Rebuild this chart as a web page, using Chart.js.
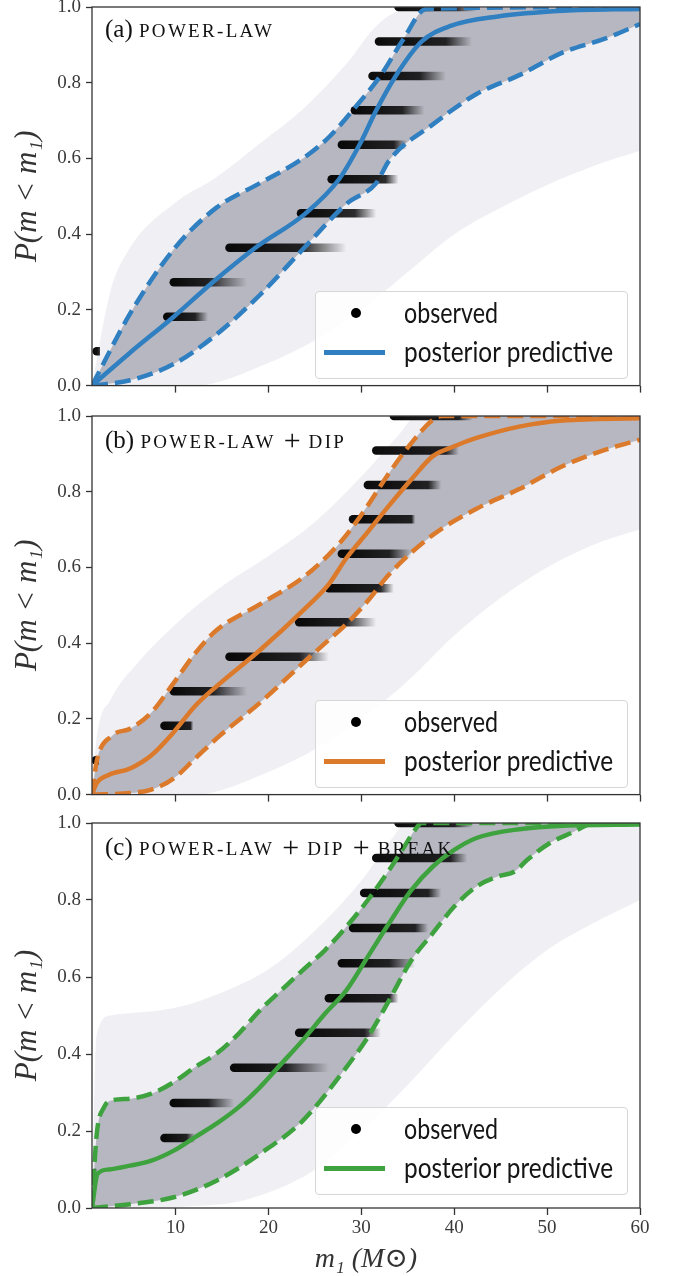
<!DOCTYPE html>
<html>
<head>
<meta charset="utf-8">
<script src="https://cdn.jsdelivr.net/npm/chart.js@4.4.1/dist/chart.umd.min.js"></script>
<style>
  html, body { margin: 0; padding: 0; background: #fff; }
  body { width: 678px; height: 1276px; position: relative; overflow: hidden; }
  canvas { position: absolute; left: 0; }
  .ttl { position: absolute; left: 105px; font-family: "Liberation Serif", serif; font-size: 25px;
         line-height: 28px; color: #111; white-space: nowrap; }
  .sc { font-size: 19px; letter-spacing: 2.3px; }
  .plus { font-size: 30px; margin: 0 8px 0 8px; position: relative; top: 2px; }
  .legend { position: absolute; left: 315px; width: 311px; height: 86px; border: 1px solid #d6d6d6;
            border-radius: 4px; background: rgba(255,255,255,0.85); }
  .legend .dot { position: absolute; left: 35px; top: 16px; width: 10px; height: 10px; border-radius: 50%; background: #000; }
  .legend .ln { position: absolute; left: 8px; top: 58px; width: 61px; height: 4.5px; }
  .legend .txt { position: absolute; left: 88px; font-family: Lato, sans-serif; font-size: 28px; line-height: 34px;
                 color: #151515; white-space: nowrap; transform-origin: 0 0; }
</style>
</head>
<body>
<canvas id="panelA" width="678" height="415" style="top:-13px"></canvas>
<canvas id="panelB" width="678" height="415" style="top:396px"></canvas>
<canvas id="panelC" width="678" height="473" style="top:803px"></canvas>

<div class="ttl" style="top:15px">(a) <span class="sc">POWER-LAW</span></div>
<div class="ttl" style="top:424px">(b) <span class="sc">POWER-LAW</span><span class="plus">+</span><span class="sc">DIP</span></div>
<div class="ttl" style="top:831px">(c) <span class="sc">POWER-LAW</span><span class="plus">+</span><span class="sc">DIP</span><span class="plus">+</span><span class="sc">BREAK</span></div>

<div class="legend" style="top:291px">
  <div class="dot"></div><div class="txt" data-w="94" style="top:3px">observed</div>
  <div class="ln" style="background:#2f7fc1"></div><div class="txt" data-w="209" style="top:42px">posterior predictive</div>
</div>
<div class="legend" style="top:700px">
  <div class="dot"></div><div class="txt" data-w="94" style="top:3px">observed</div>
  <div class="ln" style="background:#dc7a2c"></div><div class="txt" data-w="209" style="top:42px">posterior predictive</div>
</div>
<div class="legend" style="top:1107px">
  <div class="dot"></div><div class="txt" data-w="94" style="top:3px">observed</div>
  <div class="ln" style="background:#3ea33e"></div><div class="txt" data-w="209" style="top:42px">posterior predictive</div>
</div>

<script>
const X_TICKS = [10, 20, 30, 40, 50, 60];

// observed events, one per 1/11 step
const OBS_Y = [0.091, 0.182, 0.273, 0.364, 0.455, 0.545, 0.636, 0.727, 0.818, 0.909, 1.0];

// panel (a) power-law
const A_OBS_LO = [1.5, 9.1, 9.8, 15.8, 23.5, 26.8, 27.9, 29.3, 31.2, 31.9, 34.0];
const A_OBS_HI = [1.8, 12.1, 13.5, 23.7, 29.3, 32.6, 33.5, 34.4, 36.3, 39.1, 40.0];
const A_OBS_FADE = [1.9, 13.5, 17.7, 28.4, 31.6, 34.0, 34.9, 36.8, 39.1, 41.9, 42.4];
const A_MED_X = [1, 5, 9.8, 14.0, 18.6, 24.0, 27.6, 29.8, 31.6, 33.7, 36.5, 39.6, 44.7, 51.7, 60];
const A_MED_Y = [0, 0.085, 0.182, 0.273, 0.364, 0.455, 0.545, 0.636, 0.727, 0.818, 0.909, 0.95, 0.975, 0.99, 0.995];
const A_HI_X = [1, 5.1, 9.8, 14.4, 19.1, 23.7, 26.5, 29.3, 32.1, 34.4, 37, 60];
const A_HI_Y = [0, 0.19, 0.36, 0.47, 0.535, 0.6, 0.656, 0.734, 0.82, 0.91, 0.995, 1.0];
const A_LO_X = [1, 5.1, 9.8, 14.4, 19.1, 23.7, 28.4, 31.6, 33, 37.7, 42.4, 47, 51.7, 56.3, 60];
const A_LO_Y = [0, 0.014, 0.057, 0.135, 0.24, 0.36, 0.48, 0.535, 0.595, 0.69, 0.77, 0.82, 0.88, 0.917, 0.955];
const A_FAINT_HI_X = [1, 3, 5, 9.8, 14.4, 19.1, 23.7, 28.4, 31.6, 34, 36, 60];
const A_FAINT_HI_Y = [0, 0.25, 0.36, 0.48, 0.55, 0.64, 0.73, 0.85, 0.95, 0.99, 1.0, 1.0];
const A_FAINT_LO_X = [1, 12, 20, 25, 30, 35, 40, 45, 50, 55, 60];
const A_FAINT_LO_Y = [0, 0, 0.06, 0.12, 0.2, 0.3, 0.4, 0.47, 0.53, 0.58, 0.62];

// panel (b) power-law + dip
const B_OBS_LO = [1.4, 8.8, 9.8, 15.8, 23.3, 26.5, 27.9, 29.1, 30.7, 31.6, 33.5];
const B_OBS_HI = [1.7, 11.6, 14.0, 23.3, 28.4, 32.1, 33.0, 35.4, 37.2, 39.1, 40.5];
const B_OBS_FADE = [1.8, 11.9, 17.7, 26.5, 31.6, 33.5, 35.4, 35.8, 38.6, 40.5, 42.0];
const B_MED_X = [1, 1.5, 2.8, 5.1, 7.4, 9.8, 12.1, 14.4, 19.1, 23.7, 26.5, 28.4, 30.7, 33, 35.4, 37.7, 40, 42.4, 47, 51.7, 60];
const B_MED_Y = [0, 0.03, 0.052, 0.069, 0.104, 0.165, 0.234, 0.286, 0.382, 0.486, 0.556, 0.625, 0.694, 0.764, 0.833, 0.894, 0.92, 0.942, 0.972, 0.988, 0.994];
const B_HI_X = [1, 1.5, 3.2, 5.1, 7.4, 9.8, 12.1, 14.4, 19.1, 23.7, 26.5, 28.4, 30.7, 33, 35.4, 37.7, 38.6, 60];
const B_HI_Y = [0, 0.087, 0.156, 0.174, 0.217, 0.295, 0.373, 0.434, 0.503, 0.573, 0.634, 0.686, 0.764, 0.85, 0.929, 0.99, 1.0, 1.0];
const B_LO_X = [1, 5.1, 7.4, 9.8, 12.1, 14.4, 19.1, 23.7, 26.1, 28.4, 30.7, 33, 37.7, 42.4, 47, 51.7, 56.3, 60];
const B_LO_Y = [0, 0.004, 0.013, 0.043, 0.095, 0.148, 0.243, 0.347, 0.4, 0.451, 0.512, 0.582, 0.686, 0.755, 0.807, 0.868, 0.911, 0.9375];
const B_FAINT_HI_X = [1, 1.5, 3, 6, 10, 15, 20, 25, 30, 34, 36, 60];
const B_FAINT_HI_Y = [0, 0.15, 0.25, 0.35, 0.45, 0.55, 0.63, 0.72, 0.84, 0.95, 1.0, 1.0];
const B_FAINT_LO_X = [1, 12, 20, 25, 30, 35, 40, 45, 50, 55, 60];
const B_FAINT_LO_Y = [0, 0, 0.06, 0.12, 0.2, 0.3, 0.42, 0.52, 0.6, 0.66, 0.7];

// panel (c) power-law + dip + break
const C_OBS_LO = [1.2, 8.8, 9.8, 16.3, 23.3, 26.5, 27.9, 29.1, 30.3, 31.6, 34.0];
const C_OBS_HI = [1.4, 11.2, 13.5, 21.9, 30.3, 33.0, 33.0, 35.8, 37.2, 39.6, 40.0];
const C_OBS_FADE = [1.5, 12.1, 16.3, 26.5, 32.1, 34.0, 35.8, 37.2, 38.6, 41.4, 42.0];
const C_MED_X = [1, 1.6, 2.8, 5.1, 7.4, 9.8, 12.1, 14.4, 16.8, 19.1, 21.4, 23.7, 26.1, 28.4, 30.7, 33, 35.4, 37.7, 40, 42.4, 47, 51.7, 60];
const C_MED_Y = [0, 0.089, 0.1, 0.11, 0.123, 0.149, 0.184, 0.219, 0.262, 0.314, 0.375, 0.436, 0.505, 0.566, 0.653, 0.74, 0.826, 0.887, 0.93, 0.961, 0.984, 0.993, 0.996];
const C_HI_X = [1, 1.5, 2.3, 3.2, 5.1, 7.4, 9.8, 12.1, 14.4, 16.8, 19.1, 21.4, 23.7, 26.1, 28.4, 30.7, 33, 34.4, 35.8, 36.5, 60];
const C_HI_Y = [0, 0.19, 0.262, 0.28, 0.284, 0.297, 0.327, 0.366, 0.401, 0.453, 0.514, 0.566, 0.618, 0.67, 0.731, 0.8, 0.878, 0.93, 0.983, 1.0, 1.0];
const C_LO_X = [1, 5.1, 9.8, 14.4, 19.1, 23.7, 28.4, 30.7, 33, 35.4, 37.7, 40, 42.4, 44.7, 46.5, 47.9, 50.3, 52.6, 54.9, 60];
const C_LO_Y = [0, 0.01, 0.028, 0.071, 0.141, 0.227, 0.366, 0.444, 0.54, 0.644, 0.714, 0.783, 0.835, 0.861, 0.874, 0.905, 0.948, 0.974, 0.998, 1.0];
const C_FAINT_HI_X = [1, 1.5, 3, 10, 15, 20, 25, 30, 33, 35, 60];
const C_FAINT_HI_Y = [0, 0.45, 0.5, 0.52, 0.56, 0.62, 0.72, 0.85, 0.95, 1.0, 1.0];
const C_FAINT_LO_X = [1, 15, 20, 25, 30, 35, 40, 45, 50, 55, 60];
const C_FAINT_LO_Y = [0, 0.01, 0.04, 0.1, 0.2, 0.32, 0.45, 0.57, 0.67, 0.74, 0.8];

const SERIF = "'Liberation Serif', 'DejaVu Serif', serif";

function pts(xs, ys) {
  return xs.map((x, i) => ({ x, y: ys[i] }));
}

function band(xs, ys, fill, color) {
  return {
    data: pts(xs, ys), fill, backgroundColor: color, borderWidth: 0, borderColor: "transparent",
    pointRadius: 0, cubicInterpolationMode: "monotone", order: 3,
  };
}

function curve(xs, ys, color, dash) {
  return {
    data: pts(xs, ys), fill: false, borderColor: color, borderWidth: 4.5, borderDash: dash,
    pointRadius: 0, cubicInterpolationMode: "monotone", order: 1,
  };
}

// one smeared observed event: dense black from lo to hi, fading out by fade
function smear(lo, hi, fade, y) {
  return {
    data: [{ x: lo, y }, { x: fade, y }], fill: false, borderWidth: 8.5, borderCapStyle: "round",
    pointRadius: 0, tension: 0, order: 2,
    borderColor: (c) => {
      const chart = c.chart;
      const xs = chart.scales && chart.scales.x;
      if (!chart.chartArea || !xs) return "rgba(0,0,0,0.9)";
      const x0 = xs.getPixelForValue(lo);
      const x2 = xs.getPixelForValue(fade);
      if (x2 - x0 < 2) return "rgba(0,0,0,0.95)";
      const g = chart.ctx.createLinearGradient(x0, 0, x2, 0);
      const f = Math.min(0.98, (xs.getPixelForValue(hi) - x0) / (x2 - x0));
      g.addColorStop(0, "rgba(0,0,0,0.95)");
      g.addColorStop(f, "rgba(0,0,0,0.82)");
      g.addColorStop(1, "rgba(0,0,0,0)");
      return g;
    },
  };
}

const framePlugin = {
  id: "frame",
  afterDatasetsDraw(chart) {
    const { ctx, chartArea: a } = chart;
    ctx.save();
    ctx.strokeStyle = "#333";
    ctx.lineWidth = 1.3;
    ctx.strokeRect(a.left, a.top, a.right - a.left, a.bottom - a.top);
    ctx.restore();
  },
};

function drawPanel(id, p) {
  const datasets = [
    band(p.faintHiX, p.faintHiY, "+1", "rgba(196,196,214,0.28)"),
    band(p.faintLoX, p.faintLoY, false, "transparent"),
    band(p.hiX, p.hiY, "+1", "rgba(118,118,128,0.56)"),
    band(p.loX, p.loY, false, "transparent"),
  ];
  OBS_Y.forEach((y, i) => datasets.push(smear(p.obsLo[i], p.obsHi[i], p.obsFade[i], y)));
  datasets.push(curve(p.medX, p.medY, p.color, []));
  datasets.push(curve(p.hiX, p.hiY, p.color, [16, 7]));
  datasets.push(curve(p.loX, p.loY, p.color, [16, 7]));

  const chart = new Chart(document.getElementById(id), {
    type: "line",
    data: { datasets },
    plugins: [framePlugin],
    options: {
      responsive: false,
      animation: false,
      devicePixelRatio: 1,
      layout: { padding: { left: 0, right: 38, top: 20, bottom: 0 } },
      plugins: { legend: { display: false }, tooltip: { enabled: false } },
      scales: {
        x: {
          type: "linear",
          min: 1,
          max: 60,
          afterBuildTicks: (s) => { s.ticks = X_TICKS.map((v) => ({ value: v })); },
          afterFit: (s) => { s.height = p.xHeight; },
          border: { display: false },
          grid: { drawOnChartArea: false, drawTicks: true, tickLength: 7, tickColor: "#333", tickWidth: 1.3 },
          ticks: { display: p.showX, color: "#3a3a3a", padding: 2, maxRotation: 0, font: { family: SERIF, size: 19 } },
          title: {
            display: p.showX, text: "m\u2081 (M\u2299)", color: "#333",
            font: { family: SERIF, size: 28, style: "italic" }, padding: { top: 5, bottom: 0 },
          },
        },
        y: {
          min: 0,
          max: 1,
          afterFit: (s) => { s.width = 92; },
          border: { display: false },
          grid: { drawOnChartArea: false, drawTicks: true, tickLength: 6, tickColor: "#333", tickWidth: 1.3 },
          ticks: { stepSize: 0.2, padding: 5, color: "#3a3a3a", font: { family: SERIF, size: 19 },
                   callback: (v) => v.toFixed(1) },
          title: {
            display: true, text: "P(m < m\u2081)", color: "#333",
            font: { family: SERIF, size: 31, style: "italic" }, padding: { top: 9, bottom: 0 },
          },
        },
      },
    },
  });
  chart.update("none");
}

drawPanel("panelA", {
  color: "#2f7fc1", showX: false, xHeight: 10,
  obsLo: A_OBS_LO, obsHi: A_OBS_HI, obsFade: A_OBS_FADE,
  medX: A_MED_X, medY: A_MED_Y, hiX: A_HI_X, hiY: A_HI_Y, loX: A_LO_X, loY: A_LO_Y,
  faintHiX: A_FAINT_HI_X, faintHiY: A_FAINT_HI_Y, faintLoX: A_FAINT_LO_X, faintLoY: A_FAINT_LO_Y,
});
drawPanel("panelB", {
  color: "#dc7a2c", showX: false, xHeight: 10,
  obsLo: B_OBS_LO, obsHi: B_OBS_HI, obsFade: B_OBS_FADE,
  medX: B_MED_X, medY: B_MED_Y, hiX: B_HI_X, hiY: B_HI_Y, loX: B_LO_X, loY: B_LO_Y,
  faintHiX: B_FAINT_HI_X, faintHiY: B_FAINT_HI_Y, faintLoX: B_FAINT_LO_X, faintLoY: B_FAINT_LO_Y,
});
drawPanel("panelC", {
  color: "#3ea33e", showX: true, xHeight: 68,
  obsLo: C_OBS_LO, obsHi: C_OBS_HI, obsFade: C_OBS_FADE,
  medX: C_MED_X, medY: C_MED_Y, hiX: C_HI_X, hiY: C_HI_Y, loX: C_LO_X, loY: C_LO_Y,
  faintHiX: C_FAINT_HI_X, faintHiY: C_FAINT_HI_Y, faintLoX: C_FAINT_LO_X, faintLoY: C_FAINT_LO_Y,
});

// squeeze the legend text to the condensed width of the original sans font
document.querySelectorAll(".legend .txt").forEach((el) => {
  const w = el.getBoundingClientRect().width;
  el.style.transform = "scaleX(" + (Number(el.dataset.w) / w).toFixed(3) + ")";
});
</script>
</body>
</html>
